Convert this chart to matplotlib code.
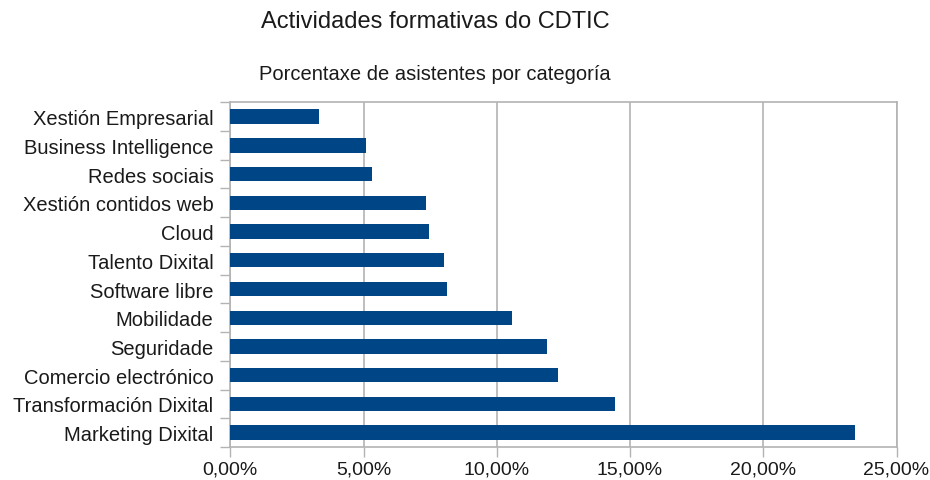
import numpy as np
import matplotlib.pyplot as plt
from matplotlib.ticker import FuncFormatter, FixedLocator

plt.rcParams['font.family'] = ['Liberation Sans', 'DejaVu Sans']

# datos (de abajo hacia arriba)
categorias = ["Marketing Dixital", "Transformación Dixital", "Comercio electrónico",
              "Seguridade", "Mobilidade", "Software libre", "Talento Dixital",
              "Cloud", "Xestión contidos web", "Redes sociais",
              "Business Intelligence", "Xestión Empresarial"]
porcentaxes = [23.46, 14.42, 12.28, 11.87, 10.56, 8.14, 8.01,
               7.46, 7.35, 5.33, 5.10, 3.33]
ticks_x = [0, 5, 10, 15, 20, 25]

cor_barra = '#004586'
cor_grella = '#b3b3b3'
cor_texto = '#1a1a1a'

fig = plt.figure(figsize=(9.3, 4.81), dpi=100)
ax = fig.add_axes([0.2476, 0.0686, 0.964 - 0.2476, 0.7852 - 0.0686])

y = np.arange(len(categorias))
ax.barh(y, porcentaxes, height=0.5, color=cor_barra, zorder=3)

ax.set_xlim(0, 25)
ax.set_ylim(-0.5, len(categorias) - 0.5)

ax.set_xticks(ticks_x)
ax.xaxis.set_major_formatter(FuncFormatter(lambda v, p: f"{v:.2f}%".replace('.', ',')))
ax.grid(axis='x', color=cor_grella, linewidth=1.2, zorder=0)

ax.set_yticks(y)
ax.set_yticklabels(categorias)
ax.yaxis.set_minor_locator(FixedLocator(np.arange(-0.5, len(categorias), 1.0)))
ax.tick_params(axis='y', which='major', length=0, pad=12, labelsize=14.5, labelcolor=cor_texto)
ax.tick_params(axis='y', which='minor', length=7, width=1, color=cor_grella)
ax.tick_params(axis='x', which='major', length=7, width=1, color=cor_grella,
               labelsize=14, labelcolor=cor_texto, pad=3)

for s in ax.spines.values():
    s.set_color(cor_grella)
    s.set_linewidth(1.2)

fig.text(0.468, 1 - 22 / 481, "Actividades formativas do CDTIC", ha='center', va='center',
         fontsize=17, color=cor_texto)
fig.text(0.468, 1 - 75 / 481, "Porcentaxe de asistentes por categoría", ha='center', va='center',
         fontsize=14.5, color=cor_texto)

fig.savefig("out.png", dpi=100)
